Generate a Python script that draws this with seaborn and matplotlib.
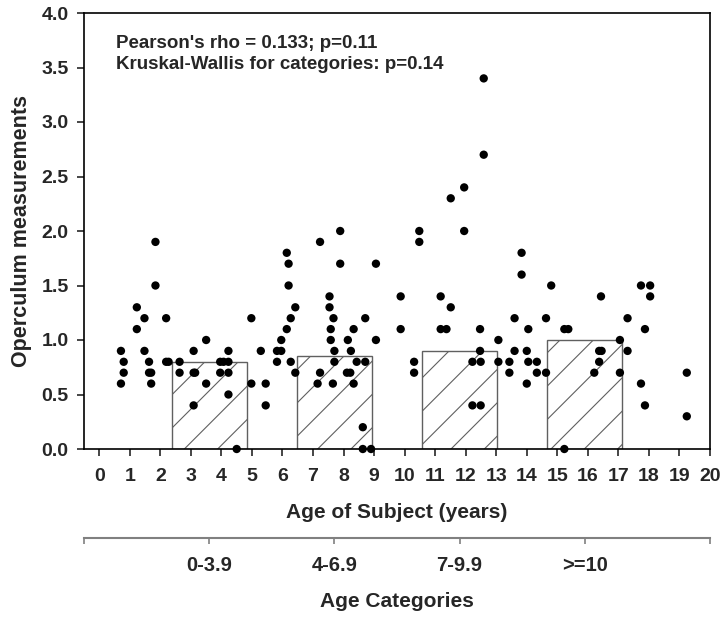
import numpy as np
import pandas as pd
import matplotlib
matplotlib.use('Agg')
from matplotlib import pyplot as plt
import seaborn as sns

# individual subjects: age in years, operculum measurement
age = [0.71, 0.80, 0.80, 0.71, 1.23, 1.23, 1.48, 1.48, 1.63, 1.63, 1.70, 1.70,
       1.84, 1.84, 2.19, 2.19, 2.27, 2.63, 2.63, 3.09, 3.09, 3.14, 3.09,
       3.50, 3.50, 3.96, 4.07, 4.23, 4.23, 3.96, 4.23, 4.23, 4.50,
       4.98, 4.98, 5.29, 5.45, 5.45, 5.82, 5.96, 5.82, 5.96,
       6.14, 6.27, 6.42, 6.20, 6.20, 6.14, 6.27, 6.42,
       7.23, 7.23, 7.15, 7.54, 7.54, 7.67, 7.58, 7.58, 7.70, 7.70, 7.65,
       7.89, 7.89, 8.14, 8.24, 8.33, 8.43, 8.71, 8.11, 8.22, 8.33, 8.71,
       8.63, 8.63, 8.90, 9.06, 9.06, 9.87, 9.87, 10.31, 10.31, 10.48, 10.48,
       11.18, 11.51, 11.18, 11.37, 11.51, 11.95, 11.95,
       12.59, 12.59, 12.47, 12.47, 12.22, 12.49, 12.22, 12.49,
       13.07, 13.07, 13.43, 13.43, 13.60, 13.60, 13.83, 13.83,
       14.05, 14.00, 14.05, 14.00, 14.33, 14.33, 14.63, 14.63, 14.80,
       15.23, 15.36, 15.23, 16.43, 16.37, 16.45, 16.37, 16.21,
       17.05, 17.05, 17.30, 17.30, 17.74, 18.04, 18.04, 17.87, 17.74, 17.87,
       19.24, 19.24]
operculum = [0.9, 0.8, 0.7, 0.6, 1.3, 1.1, 1.2, 0.9, 0.8, 0.7, 0.7, 0.6,
             1.9, 1.5, 1.2, 0.8, 0.8, 0.8, 0.7, 0.9, 0.7, 0.7, 0.4,
             1.0, 0.6, 0.8, 0.8, 0.8, 0.9, 0.7, 0.7, 0.5, 0.0,
             1.2, 0.6, 0.9, 0.6, 0.4, 0.9, 0.9, 0.8, 1.0,
             1.1, 1.2, 1.3, 1.5, 1.7, 1.8, 0.8, 0.7,
             1.9, 0.7, 0.6, 1.4, 1.3, 1.2, 1.1, 1.0, 0.9, 0.8, 0.6,
             2.0, 1.7, 1.0, 0.9, 1.1, 0.8, 0.8, 0.7, 0.7, 0.6, 1.2,
             0.2, 0.0, 0.0, 1.7, 1.0, 1.4, 1.1, 0.8, 0.7, 2.0, 1.9,
             1.4, 1.3, 1.1, 1.1, 2.3, 2.4, 2.0,
             3.4, 2.7, 1.1, 0.9, 0.8, 0.8, 0.4, 0.4,
             1.0, 0.8, 0.8, 0.7, 1.2, 0.9, 1.8, 1.6,
             1.1, 0.9, 0.8, 0.6, 0.8, 0.7, 1.2, 0.7, 1.5,
             1.1, 1.1, 0.0, 1.4, 0.9, 0.9, 0.8, 0.7,
             1.0, 0.7, 1.2, 0.9, 1.5, 1.5, 1.4, 1.1, 0.6, 0.4,
             0.7, 0.3]

# age categories and their bar heights
categories = ['0-3.9', '4-6.9', '7-9.9', '>=10']
category_values = [0.8, 0.85, 0.9, 1.0]

df = pd.DataFrame({'age': age, 'operculum': operculum})

sns.set_style('ticks')
plt.rcParams['font.family'] = ['Liberation Sans Narrow', 'Liberation Sans', 'DejaVu Sans']
plt.rcParams['font.weight'] = 'bold'
plt.rcParams['axes.labelweight'] = 'bold'
plt.rcParams['hatch.linewidth'] = 0.8

fig = plt.figure(figsize=(7.2, 6.23), dpi=100)
ax = fig.add_axes([84 / 720, 1 - 449 / 623, (710 - 84) / 720, (449 - 13) / 623])

# category axis (bars + lower axis line)
ax_cat = ax.twiny()
ax_cat.bar(range(1, len(categories) + 1), category_values, width=0.6,
           color='white', edgecolor='#606060', hatch='/', linewidth=1.0)
ax_cat.set_xlim(0, len(categories) + 1)
ax_cat.xaxis.set_ticks_position('bottom')
ax_cat.xaxis.set_label_position('bottom')
for side in ['top', 'left', 'right']:
    ax_cat.spines[side].set_visible(False)
ax_cat.spines['bottom'].set_position(('outward', 64))
ax_cat.spines['bottom'].set_color('#808080')
ax_cat.spines['bottom'].set_linewidth(1.5)
ax_cat.set_xticks(range(0, len(categories) + 2))
ax_cat.set_xticklabels([''] + categories + [''], fontsize=14.5)
ax_cat.tick_params(axis='x', direction='out', length=4, width=1.2, color='#808080', pad=9)
ax_cat.set_xlabel('Age Categories', fontsize=15, labelpad=12)

# scatter on top of the bars
ax.set_zorder(ax_cat.get_zorder() + 1)
ax.patch.set_visible(False)
sns.scatterplot(data=df, x='age', y='operculum', ax=ax, color='black', s=36,
                edgecolor='none', linewidth=0, clip_on=False, zorder=3, legend=False)

ax.set_xlim(-0.5, 20)
ax.set_ylim(0, 4)
ax.set_xticks(range(0, 21))
ax.set_yticks(np.arange(0, 4.01, 0.5))
ax.set_yticklabels(['%.1f' % v for v in np.arange(0, 4.01, 0.5)])
ax.tick_params(axis='both', direction='out', length=5, width=1.2, labelsize=14)
ax.tick_params(axis='x', pad=9)
ax.tick_params(axis='y', pad=6)
for side in ax.spines:
    ax.spines[side].set_visible(True)
    ax.spines[side].set_linewidth(1.2)
    ax.spines[side].set_color('black')
ax.set_xlabel('Age of Subject (years)', fontsize=15, labelpad=13)
ax.set_ylabel('Operculum measurements', fontsize=15.5, labelpad=7)

ax.text(0.051, 0.931, "Pearson's rho = 0.133; p=0.11", transform=ax.transAxes,
        va='center', ha='left', fontsize=13.5)
ax.text(0.051, 0.883, 'Kruskal-Wallis for categories: p=0.14', transform=ax.transAxes,
        va='center', ha='left', fontsize=13.5)

plt.savefig('out.png', dpi=100)
